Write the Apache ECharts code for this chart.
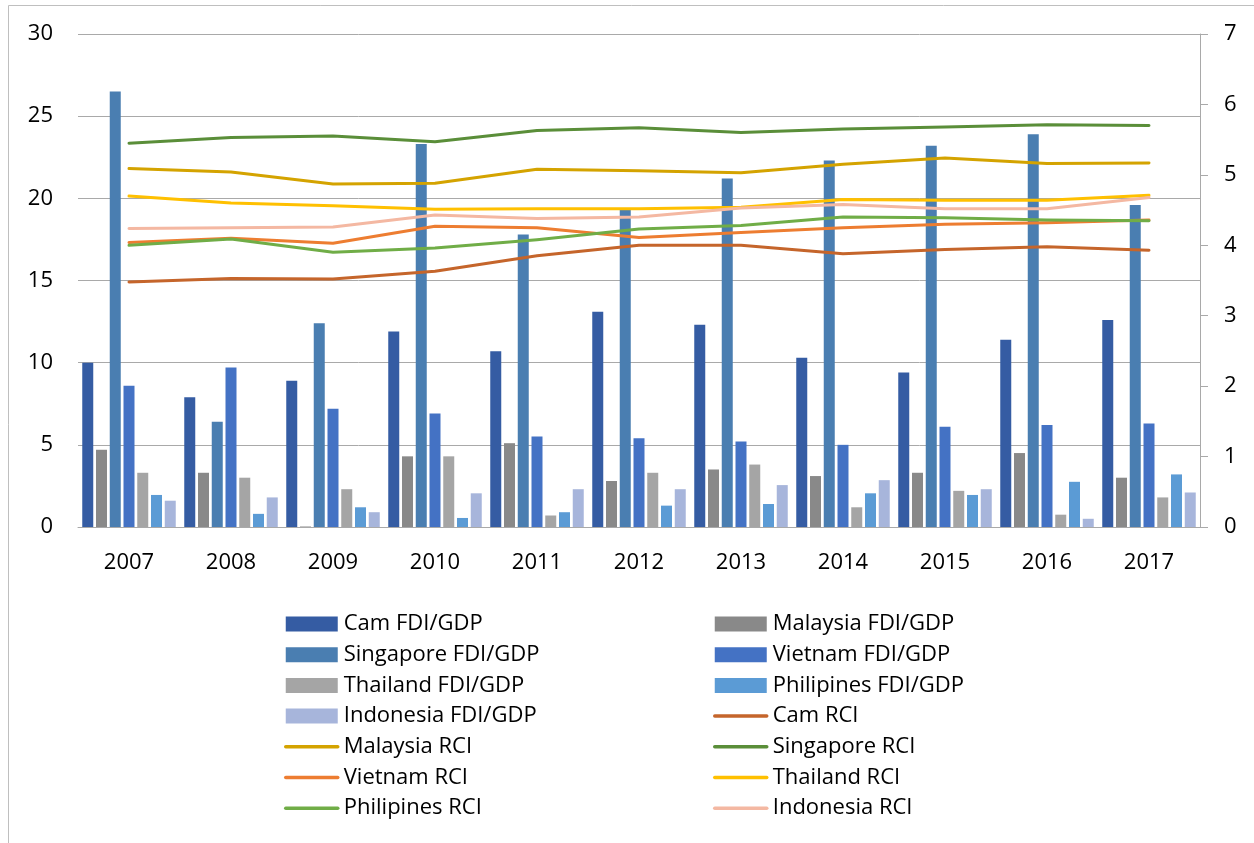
<!DOCTYPE html>
<html>
<head>
<meta charset="utf-8">
<title>FDI/GDP and RCI, 2007–2017</title>
<script src="https://cdn.jsdelivr.net/npm/echarts@6/dist/echarts.min.js"></script>
<style>
  html, body { margin: 0; padding: 0; background: #ffffff; }
  #chart { width: 1254px; height: 843px; }
</style>
</head>
<body>
<div id="chart"></div>
<script>
// Years on the category axis
const years = ['2007', '2008', '2009', '2010', '2011', '2012', '2013', '2014', '2015', '2016', '2017'];

// FDI/GDP (left axis, bars)
const camFdi       = [10.0, 7.9, 8.9, 11.9, 10.7, 13.1, 12.3, 10.3, 9.4, 11.4, 12.6];
const malaysiaFdi  = [4.7, 3.3, 0.03, 4.3, 5.1, 2.8, 3.5, 3.1, 3.3, 4.5, 3.0];
const singaporeFdi = [26.5, 6.4, 12.4, 23.3, 17.8, 19.3, 21.2, 22.3, 23.2, 23.9, 19.6];
const vietnamFdi   = [8.6, 9.7, 7.2, 6.9, 5.5, 5.4, 5.2, 5.0, 6.1, 6.2, 6.3];
const thailandFdi  = [3.3, 3.0, 2.3, 4.3, 0.7, 3.3, 3.8, 1.2, 2.2, 0.75, 1.8];
const philFdi      = [1.95, 0.8, 1.2, 0.55, 0.9, 1.3, 1.4, 2.05, 1.95, 2.75, 3.2];
const indonesiaFdi = [1.6, 1.8, 0.9, 2.05, 2.3, 2.3, 2.55, 2.85, 2.3, 0.5, 2.1];

// RCI (right axis, lines)
const camRci       = [3.48, 3.53, 3.52, 3.63, 3.85, 4.00, 4.00, 3.88, 3.94, 3.98, 3.93];
const malaysiaRci  = [5.09, 5.04, 4.87, 4.88, 5.08, 5.06, 5.03, 5.15, 5.24, 5.16, 5.17];
const singaporeRci = [5.45, 5.53, 5.55, 5.47, 5.63, 5.67, 5.60, 5.65, 5.68, 5.71, 5.70];
const vietnamRci   = [4.04, 4.10, 4.03, 4.27, 4.25, 4.11, 4.18, 4.25, 4.30, 4.32, 4.36];
const thailandRci  = [4.70, 4.60, 4.56, 4.51, 4.52, 4.52, 4.54, 4.65, 4.64, 4.64, 4.71];
const philRci      = [4.00, 4.09, 3.90, 3.96, 4.08, 4.23, 4.28, 4.40, 4.39, 4.36, 4.35];
const indonesiaRci = [4.24, 4.25, 4.26, 4.43, 4.38, 4.40, 4.53, 4.58, 4.52, 4.52, 4.68];

// Tick values for the two value axes
const leftTicks = [0, 5, 10, 15, 20, 25, 30];
const rightTicks = [0, 1, 2, 3, 4, 5, 6, 7];

const FONT = '"Open Sans", "Noto Sans", sans-serif';
const GRID_GRAY = '#A9A9A9';

const barSeries = [
  { name: 'Cam FDI/GDP',        data: camFdi,       color: '#355CA3' },
  { name: 'Malaysia FDI/GDP',   data: malaysiaFdi,  color: '#898989' },
  { name: 'Singapore FDI/GDP',  data: singaporeFdi, color: '#4A7EB1' },
  { name: 'Vietnam FDI/GDP',    data: vietnamFdi,   color: '#4472C4' },
  { name: 'Thailand FDI/GDP',   data: thailandFdi,  color: '#A5A5A5' },
  { name: 'Philipines FDI/GDP', data: philFdi,      color: '#5B9BD5' },
  { name: 'Indonesia FDI/GDP',  data: indonesiaFdi, color: '#A7B5DB' }
].map(s => ({
  name: s.name,
  type: 'bar',
  yAxisIndex: 0,
  data: s.data,
  barWidth: 11,
  barGap: '25%',
  itemStyle: { color: s.color },
  emphasis: { disabled: true }
}));

const lineSeries = [
  { name: 'Cam RCI',        data: camRci,       color: '#C5652B' },
  { name: 'Malaysia RCI',   data: malaysiaRci,  color: '#D4A300' },
  { name: 'Singapore RCI',  data: singaporeRci, color: '#5A8E39' },
  { name: 'Vietnam RCI',    data: vietnamRci,   color: '#ED7D31' },
  { name: 'Thailand RCI',   data: thailandRci,  color: '#FFC000' },
  { name: 'Philipines RCI', data: philRci,      color: '#70AD47' },
  { name: 'Indonesia RCI',  data: indonesiaRci, color: '#F4B8A2' }
].map(s => ({
  name: s.name,
  type: 'line',
  yAxisIndex: 1,
  data: s.data,
  symbol: 'none',
  lineStyle: { color: s.color, width: 3, cap: 'round', join: 'round' },
  itemStyle: { color: s.color },
  emphasis: { disabled: true }
}));

const allSeries = barSeries.concat(lineSeries);

// Legend entries: plain rectangles for bars, a bare thick line for lines
const legendItems = allSeries.map(s => s.type === 'bar'
  ? { name: s.name, icon: 'rect' }
  : {
      name: s.name,
      itemStyle: { opacity: 0 },
      lineStyle: { width: 3.5, cap: 'round', color: s.lineStyle.color }
    });
const leftItems = legendItems.filter((_, i) => i % 2 === 0);
const rightItems = legendItems.filter((_, i) => i % 2 === 1);

const legendBase = {
  orient: 'vertical',
  top: 613,
  padding: 0,
  itemWidth: 52,
  itemHeight: 15,
  itemGap: 8.7,
  selectedMode: false,
  textStyle: { fontFamily: FONT, fontSize: 22, lineHeight: 22, color: '#000000', padding: [0, 0, 0, 1] }
};

const chart = echarts.init(document.getElementById('chart'), null, { renderer: 'canvas' });

chart.setOption({
  animation: false,
  backgroundColor: '#ffffff',
  textStyle: { fontFamily: FONT },
  grid: { left: 78, right: 54, top: 34, bottom: 316, containLabel: false, outerBoundsMode: 'none' },
  legend: [
    Object.assign({}, legendBase, { left: 284, data: leftItems }),
    Object.assign({}, legendBase, { left: 713, data: rightItems })
  ],
  xAxis: {
    type: 'category',
    data: years,
    axisLine: { show: true, lineStyle: { color: GRID_GRAY, width: 1 } },
    axisTick: { show: false },
    axisLabel: { fontFamily: FONT, fontSize: 22, color: '#000000', margin: 25 },
    splitLine: { show: false }
  },
  yAxis: [
    {
      type: 'value',
      min: leftTicks[0],
      max: leftTicks[leftTicks.length - 1],
      interval: leftTicks[1] - leftTicks[0],
      axisLine: { show: false },
      axisTick: { show: false },
      axisLabel: { fontFamily: FONT, fontSize: 22, color: '#000000', margin: 25 },
      splitLine: { show: true, lineStyle: { color: GRID_GRAY, width: 1 } }
    },
    {
      type: 'value',
      position: 'right',
      min: rightTicks[0],
      max: rightTicks[rightTicks.length - 1],
      interval: rightTicks[1] - rightTicks[0],
      axisLine: { show: true, lineStyle: { color: GRID_GRAY, width: 1 } },
      axisTick: { show: true, inside: false, length: 8, lineStyle: { color: GRID_GRAY } },
      axisLabel: { fontFamily: FONT, fontSize: 22, color: '#000000', margin: 24 },
      splitLine: { show: false }
    }
  ],
  graphic: [
    {
      type: 'rect',
      silent: true,
      shape: { x: 8.5, y: 5.5, width: 1300, height: 900 },
      style: { fill: null, stroke: '#BFBFBF', lineWidth: 1 }
    }
  ],
  series: allSeries
});
</script>
</body>
</html>
